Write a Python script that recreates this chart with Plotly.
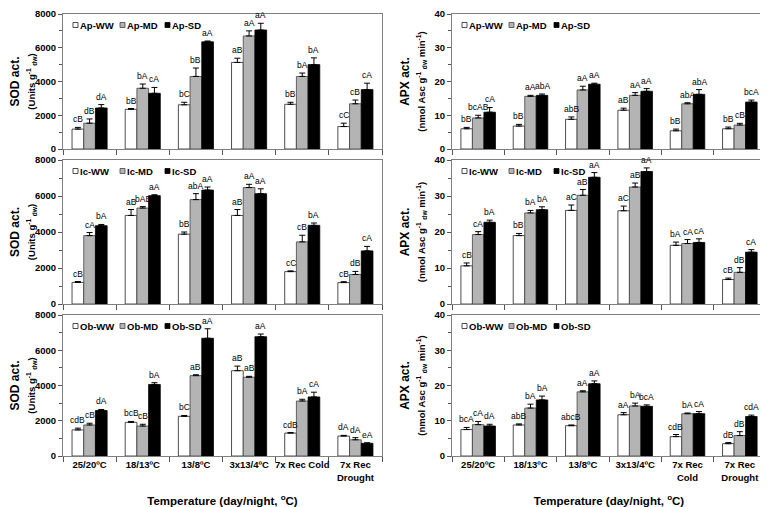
import numpy as np
import plotly.graph_objects as go

# categories
cats_left = ["25/20ºC", "18/13ºC", "13/8ºC", "3x13/4ºC", "7x Rec Cold", "7x Rec<br>Drought"]
cats_right = ["25/20ºC", "18/13ºC", "13/8ºC", "3x13/4ºC", "7x Rec<br>Cold", "7x Rec<br>Drought"]
species = ["Ap", "Ic", "Ob"]
treat = ["WW", "MD", "SD"]

# SOD (Units g-1 dw)
sod_ap = [[1180, 2350, 2620, 5130, 2650, 1330],
          [1530, 3600, 4300, 6700, 4300, 2680],
          [2430, 3300, 6350, 7050, 5000, 3520]]
sod_ap_err = [[100, 50, 150, 250, 120, 200],
              [250, 250, 500, 300, 200, 220],
              [200, 350, 50, 400, 400, 380]]
sod_ap_lab = [["cB", "bB", "bC", "aB", "bB", "cC"],
              ["dB", "bA", "bB", "aA", "bA", "cB"],
              ["dA", "cA", "aA", "aA", "bA", "cA"]]

sod_ic = [[1200, 4920, 3880, 4920, 1800, 1190],
          [3800, 5330, 5800, 6470, 3450, 1640],
          [4350, 6020, 6330, 6130, 4370, 2950]]
sod_ic_err = [[50, 330, 120, 330, 40, 50],
              [170, 80, 330, 180, 370, 170],
              [70, 50, 170, 270, 130, 250]]
sod_ic_lab = [["cB", "aB", "bB", "aB", "cC", "cB"],
              ["cA", "bAB", "abA", "aA", "cB", "dB"],
              ["bA", "aA", "aA", "aA", "bA", "cA"]]

sod_ob = [[1480, 1910, 2250, 4840, 1300, 1130],
          [1760, 1700, 4560, 4470, 3120, 920],
          [2580, 4060, 6680, 6770, 3350, 720]]
sod_ob_err = [[100, 50, 50, 260, 30, 40],
              [100, 100, 50, 50, 100, 120],
              [60, 100, 540, 150, 270, 30]]
sod_ob_lab = [["cdB", "bcB", "bC", "aB", "cdB", "dA"],
              ["cB", "cB", "aB", "aB", "bA", "dA"],
              ["dA", "bA", "aA", "aA", "cA", "eA"]]

# APX (nmol Asc g-1 dw min-1)
apx_ap = [[6.0, 6.8, 8.8, 11.5, 5.4, 6.0],
          [9.2, 15.6, 17.5, 15.9, 13.4, 7.1],
          [10.9, 15.9, 19.2, 17.1, 16.2, 13.9]]
apx_ap_err = [[0.4, 0.5, 0.7, 0.6, 0.5, 0.5],
              [0.8, 0.3, 1.1, 0.8, 0.3, 0.5],
              [1.4, 0.4, 0.3, 0.8, 1.4, 0.6]]
apx_ap_lab = [["bB", "bB", "abB", "aB", "bB", "bB"],
              ["bcAB", "aA", "aA", "aA", "abA", "cB"],
              ["cA", "abA", "aA", "aA", "abA", "bcA"]]

apx_ic = [[10.6, 19.0, 26.0, 25.9, 16.3, 6.8],
          [19.3, 25.3, 30.2, 32.5, 16.8, 8.8],
          [22.7, 26.2, 35.2, 36.8, 17.1, 14.4]]
apx_ic_err = [[0.8, 0.6, 1.5, 1.3, 0.9, 0.4],
              [0.8, 0.7, 1.6, 1.1, 1.1, 1.3],
              [0.6, 0.8, 1.3, 1.0, 1.0, 0.7]]
apx_ic_lab = [["cB", "bB", "aC", "aC", "bA", "cB"],
              ["cA", "bA", "aB", "aB", "cA", "dB"],
              ["bA", "bA", "aA", "aA", "cA", "cA"]]

apx_ob = [[7.5, 8.8, 8.6, 11.7, 5.5, 3.5],
          [8.9, 13.6, 18.2, 14.2, 12.0, 5.8],
          [8.5, 15.9, 20.5, 14.1, 12.0, 11.2]]
apx_ob_err = [[0.6, 0.3, 0.2, 0.6, 0.6, 0.3],
              [0.9, 1.1, 0.3, 0.8, 0.2, 1.1],
              [0.5, 1.1, 0.8, 0.4, 0.6, 0.4]]
apx_ob_lab = [["bcA", "abB", "abcB", "aA", "cdB", "dB"],
              ["cA", "bA", "aA", "bA", "bA", "dB"],
              ["dA", "bA", "aA", "bcA", "cA", "cdA"]]

sod = [(sod_ap, sod_ap_err, sod_ap_lab), (sod_ic, sod_ic_err, sod_ic_lab), (sod_ob, sod_ob_err, sod_ob_lab)]
apx = [(apx_ap, apx_ap_err, apx_ap_lab), (apx_ic, apx_ic_err, apx_ic_lab), (apx_ob, apx_ob_err, apx_ob_lab)]

fills = ["white", "#b4b4b4", "black"]
lines = ["#222222", "#444444", "black"]
FONT = "Liberation Sans, Arial, sans-serif"

bw = 0.22
offs = [-bw, 0, bw]
xpos = np.arange(6)
leg_off = [10, 57, 102]   # px from panel left, legend squares

# page body has an 8px margin, so figure is 760x499 and domains are set in its pixels
W, H = 760, 499
xdom = [(55 / W, 374 / W), (444 / W, 758 / W)]
ydom = [(1 - 141 / H, 1 - 6 / H), (1 - 296 / H, 1 - 152 / H), (1 - 448 / H, 1 - 307 / H)]

fig = go.Figure()
annos = []
shapes = []
panel = 0
for r in range(3):
    for c in range(2):
        panel += 1
        ax = "" if panel == 1 else str(panel)
        vals, errs, labs = (sod if c == 0 else apx)[r]
        for j in range(3):
            fig.add_trace(go.Bar(
                x=xpos + offs[j], y=vals[j], width=bw,
                name=species[r] + "-" + treat[j], showlegend=False,
                marker=dict(color=fills[j], line=dict(color=lines[j], width=0.8)),
                error_y=dict(type="data", array=errs[j], arrayminus=[0] * 6, symmetric=False,
                             color="black", thickness=1, width=3),
                xaxis="x" + ax, yaxis="y" + ax,
            ))
            for i in range(6):
                annos.append(dict(x=xpos[i] + offs[j], y=vals[j][i] + errs[j][i], text=labs[j][i],
                                  xref="x" + ax, yref="y" + ax, showarrow=False,
                                  yanchor="bottom", yshift=2, borderpad=0,
                                  font=dict(family=FONT, size=8.5, color="black")))
            # legend: small square + label
            shapes.append(dict(type="rect", xref="x" + ax + " domain", yref="y" + ax + " domain",
                               xsizemode="pixel", ysizemode="pixel", xanchor=0, yanchor=1,
                               x0=leg_off[j], x1=leg_off[j] + 5, y0=-13.5, y1=-8.5,
                               fillcolor=fills[j], line=dict(color=lines[j], width=0.8)))
            annos.append(dict(x=0, y=1, xref="x" + ax + " domain", yref="y" + ax + " domain",
                              xanchor="left", yanchor="middle", xshift=leg_off[j] + 5, yshift=-11,
                              text="<b>" + species[r] + "-" + treat[j] + "</b>", showarrow=False,
                              font=dict(family=FONT, size=9.5, color="black")))
        ymax = 8000 if c == 0 else 40
        ydt = 2000 if c == 0 else 10
        if c == 0:
            ytitle = ("<b>SOD act.</b><br><span style='font-size:9.5px'><b>(Units g<sup>-1</sup> "
                      "<sub>dw</sub>)</b></span>")
        else:
            ytitle = ("<b>APX act.</b><br><span style='font-size:9.5px'><b>(nmol Asc g<sup>-1</sup> "
                      "<sub>dw</sub> min<sup>-1</sup>)</b></span>")
        fig.update_layout({
            "xaxis" + ax: dict(
                domain=xdom[c], anchor="y" + ax, range=[-0.5, 5.5], automargin=False,
                tickvals=list(xpos), ticktext=(cats_left if c == 0 else cats_right),
                showticklabels=(r == 2), ticks="", tickangle=0,
                minor=dict(tick0=0.5, dtick=1, ticks="outside", ticklen=5, tickcolor="#555"),
                showline=True, mirror=True, linecolor="#808080", linewidth=1,
                showgrid=False, zeroline=False,
                tickfont=dict(family=FONT, size=9.5, color="black", weight="bold"),
                title=dict(text="<b>Temperature (day/night, <sup>o</sup>C)</b>" if r == 2 else "",
                           font=dict(family=FONT, size=11.5, color="black"), standoff=19),
            ),
            "yaxis" + ax: dict(
                domain=ydom[r], anchor="x" + ax, range=[0, ymax], dtick=ydt, automargin=False,
                ticks="outside", ticklen=4, tickcolor="#555", ticklabeloverflow="allow",
                minor=dict(dtick=ydt / 2, ticks="outside", ticklen=3, tickcolor="#555"),
                showline=True, mirror=True, linecolor="#808080", linewidth=1,
                showgrid=False, zeroline=False, tickformat="d",
                tickfont=dict(family=FONT, size=9.5, color="black", weight="bold"),
                title=dict(text=ytitle, font=dict(family=FONT, size=12, color="black"), standoff=6),
            ),
        })

fig.update_layout(
    width=W, height=H,
    margin=dict(l=0, r=0, t=0, b=0),
    paper_bgcolor="white", plot_bgcolor="white",
    barmode="overlay", showlegend=False,
    annotations=annos, shapes=shapes,
    font=dict(family=FONT, color="black"),
)

fig.write_html("out.html")
